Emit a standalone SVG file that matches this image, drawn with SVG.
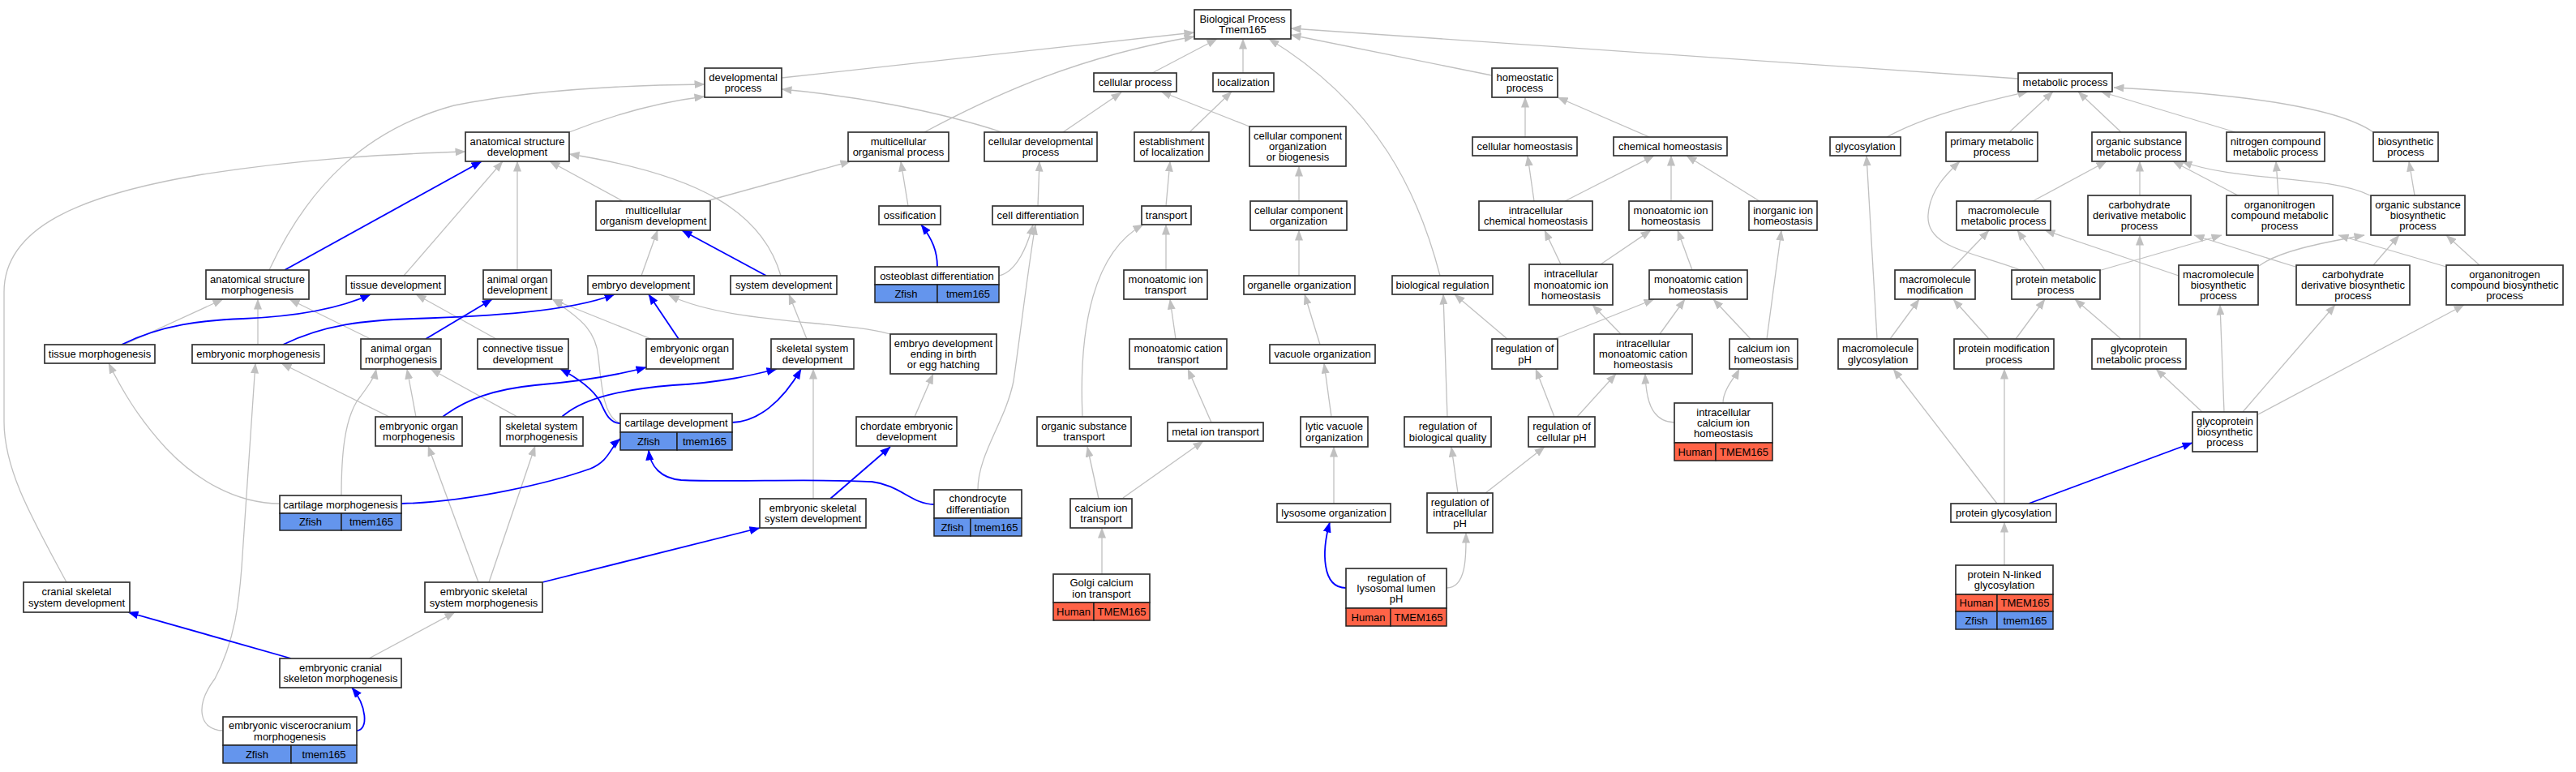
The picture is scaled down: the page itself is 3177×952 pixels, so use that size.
<svg xmlns="http://www.w3.org/2000/svg" width="3177" height="952" viewBox="0 0 3177 952">
<style>
.bg{fill:#fff}
.n rect{fill:#fff;stroke:#333;stroke-width:1.7}
.n rect.z{fill:#6495ED;stroke:#222;stroke-width:1.5}
.n rect.h{fill:#FF6347;stroke:#222;stroke-width:1.5}
text{font-family:"Liberation Sans",Arial,Helvetica,sans-serif;font-size:13px;text-anchor:middle;fill:#000}
.e{fill:none;stroke:#c0c0c0;stroke-width:1.3;marker-end:url(#ag)}
.b{fill:none;stroke:#0000ff;stroke-width:1.8;marker-end:url(#ab)}
</style>
<defs>
<marker id="ag" markerUnits="userSpaceOnUse" markerWidth="13" markerHeight="10" viewBox="0 0 13 10" refX="12.5" refY="5" orient="auto"><path d="M0,0 L13,5 L0,10 z" fill="#c0c0c0"/></marker>
<marker id="ab" markerUnits="userSpaceOnUse" markerWidth="13" markerHeight="10" viewBox="0 0 13 10" refX="12.5" refY="5" orient="auto"><path d="M0,0 L13,5 L0,10 z" fill="#0000ff"/></marker>
</defs>
<rect class="bg" x="0" y="0" width="3177" height="952"/>
<g id="edges">
<path class="e" d="M964,96 L1473,40"/>
<path class="e" d="M1140,163 C1230,115 1330,70 1473,45"/>
<path class="e" d="M1421,90 L1501,48"/>
<path class="e" d="M1533,90 L1533,48"/>
<path class="e" d="M1776,340 C1750,240 1700,130 1565,48"/>
<path class="e" d="M1840,93 L1592,43"/>
<path class="e" d="M2489,97 L1592,35"/>
<path class="e" d="M702,163 C760,140 820,125 869,119"/>
<path class="e" d="M332,333 C380,230 450,160 560,130 C650,112 760,105 869,104"/>
<path class="e" d="M1236,163 C1150,135 1050,118 964,110"/>
<path class="e" d="M1311,163 L1383,114"/>
<path class="e" d="M1467,163 L1519,113"/>
<path class="e" d="M1541,156 L1432,113"/>
<path class="e" d="M1881,169 L1881,120"/>
<path class="e" d="M2034,169 L1921,120"/>
<path class="e" d="M2327,169 C2380,140 2450,125 2501,113"/>
<path class="e" d="M2478,163 L2532,113"/>
<path class="e" d="M2616,163 L2563,113"/>
<path class="e" d="M2757,163 L2591,113"/>
<path class="e" d="M2927,163 C2880,130 2750,115 2607,108"/>
<path class="e" d="M768,248 L678,199"/>
<path class="e" d="M871,248 L1049,199"/>
<path class="e" d="M1120,254 L1111,199"/>
<path class="e" d="M1280,254 L1282,199"/>
<path class="e" d="M1438,254 L1443,199"/>
<path class="e" d="M1602,248 L1602,205"/>
<path class="e" d="M1892,248 L1884,192"/>
<path class="e" d="M1930,248 L2040,192"/>
<path class="e" d="M2061,248 L2061,192"/>
<path class="e" d="M2170,248 L2080,192"/>
<path class="e" d="M2507,248 L2598,199"/>
<path class="e" d="M2639,241 L2639,199"/>
<path class="e" d="M2760,241 L2680,199"/>
<path class="e" d="M2923,241 C2870,215 2760,225 2691,199"/>
<path class="e" d="M2810,241 L2807,199"/>
<path class="e" d="M2978,241 L2971,199"/>
<path class="e" d="M498,340 L620,199"/>
<path class="e" d="M638,333 L638,199"/>
<path class="e" d="M791,340 L811,284"/>
<path class="e" d="M963,340 C940,260 860,215 702,190"/>
<path class="e" d="M153,425 L275,369"/>
<path class="e" d="M318,425 L318,369"/>
<path class="e" d="M457,418 L357,369"/>
<path class="e" d="M612,418 L513,363"/>
<path class="e" d="M803,418 L681,369"/>
<path class="e" d="M765,522 C745,515 742,480 738,440 C735,410 720,395 682,370"/>
<path class="e" d="M1098,412 C1040,395 900,400 825,364"/>
<path class="e" d="M995,418 L973,363"/>
<path class="e" d="M1128,514 L1151,461"/>
<path class="e" d="M1003,615 L1003,455"/>
<path class="e" d="M1206,604 C1206,560 1240,520 1250,470 C1260,400 1268,330 1277,277"/>
<path class="e" d="M1232,340 C1255,335 1268,300 1274,277"/>
<path class="e" d="M1438,333 L1438,277"/>
<path class="e" d="M1335,514 C1330,400 1350,310 1410,277"/>
<path class="e" d="M1602,340 L1602,284"/>
<path class="e" d="M1450,418 L1443,369"/>
<path class="e" d="M1628,425 L1609,363"/>
<path class="e" d="M1925,326 L1905,284"/>
<path class="e" d="M1974,326 L2036,284"/>
<path class="e" d="M2087,333 L2069,284"/>
<path class="e" d="M2179,418 L2197,284"/>
<path class="e" d="M2159,418 L2113,369"/>
<path class="e" d="M2047,412 L2078,369"/>
<path class="e" d="M1999,412 L1964,376"/>
<path class="e" d="M1859,418 L1794,363"/>
<path class="e" d="M1917,418 L2040,369"/>
<path class="e" d="M2315,418 L2302,192"/>
<path class="e" d="M2331,418 L2367,369"/>
<path class="e" d="M2453,418 L2409,369"/>
<path class="e" d="M2486,418 L2522,369"/>
<path class="e" d="M2406,333 L2453,284"/>
<path class="e" d="M2522,333 L2488,284"/>
<path class="e" d="M2492,333 C2430,310 2375,305 2378,265 C2380,235 2400,215 2417,199"/>
<path class="e" d="M2588,334 L2740,290"/>
<path class="e" d="M2616,418 L2559,369"/>
<path class="e" d="M2639,418 L2639,290"/>
<path class="e" d="M2687,340 L2522,284"/>
<path class="e" d="M2786,328 C2810,310 2860,300 2916,290"/>
<path class="e" d="M2831,329 L2706,290"/>
<path class="e" d="M2927,327 L2959,290"/>
<path class="e" d="M3017,329 L2884,290"/>
<path class="e" d="M3058,327 L3017,290"/>
<path class="e" d="M2716,508 L2659,455"/>
<path class="e" d="M2743,508 L2738,376"/>
<path class="e" d="M2766,508 L2880,376"/>
<path class="e" d="M2785,511 L3039,376"/>
<path class="e" d="M2472,621 L2472,455"/>
<path class="e" d="M2463,621 L2335,455"/>
<path class="e" d="M2472,697 L2472,644"/>
<path class="e" d="M2125,497 C2125,480 2140,465 2145,455"/>
<path class="e" d="M2065,521 C2035,520 2030,490 2029,461"/>
<path class="e" d="M1642,514 L1633,448"/>
<path class="e" d="M1785,514 L1780,363"/>
<path class="e" d="M1917,514 L1894,455"/>
<path class="e" d="M1945,514 L1993,461"/>
<path class="e" d="M1798,608 L1790,551"/>
<path class="e" d="M1832,608 L1905,551"/>
<path class="e" d="M1645,621 L1645,551"/>
<path class="e" d="M1784,725 C1810,725 1808,680 1808,657"/>
<path class="e" d="M1494,521 L1465,455"/>
<path class="e" d="M1385,614 L1484,544"/>
<path class="e" d="M1355,615 L1341,551"/>
<path class="e" d="M1359,708 L1359,651"/>
<path class="e" d="M590,718 L528,550"/>
<path class="e" d="M603,718 L660,550"/>
<path class="e" d="M455,812 L561,755"/>
<path class="e" d="M275,901 C245,900 240,870 265,837 C290,790 295,740 298,700 C305,600 311,500 315,448"/>
<path class="e" d="M345,621 C290,621 240,590 205,553 C170,515 150,480 134,448"/>
<path class="e" d="M421,611 C421,560 425,520 440,495 C455,475 462,465 464,455"/>
<path class="e" d="M513,514 L502,455"/>
<path class="e" d="M480,514 L347,448"/>
<path class="e" d="M638,514 L531,455"/>
<path class="e" d="M82,718 C40,640 5,580 5,520 L5,360 C5,280 100,240 250,215 C380,195 480,190 574,187"/>
<path class="b" d="M351,333 L594,199"/>
<path class="b" d="M150,425 C200,400 250,395 300,393 C370,390 420,380 457,363"/>
<path class="b" d="M525,418 L607,369"/>
<path class="b" d="M349,425 C400,400 450,395 510,393 C600,390 700,385 758,363"/>
<path class="b" d="M945,340 L841,284"/>
<path class="b" d="M1156,329 C1156,310 1150,295 1136,277"/>
<path class="b" d="M837,418 L800,363"/>
<path class="b" d="M546,514 C575,492 610,480 660,475 C720,470 760,463 797,453"/>
<path class="b" d="M693,514 C720,490 770,480 830,475 C890,472 930,462 958,455"/>
<path class="b" d="M903,521 C935,520 965,495 988,455"/>
<path class="b" d="M765,522 C750,522 745,505 740,495 C730,478 712,466 691,455"/>
<path class="b" d="M495,621 C580,619 680,595 728,578 C752,568 752,552 765,541"/>
<path class="b" d="M1152,622 C1125,622 1110,598 1075,594 C1000,590 900,595 840,592 C815,590 802,575 800,555"/>
<path class="b" d="M1024,615 L1098,551"/>
<path class="b" d="M669,718 L937,651"/>
<path class="b" d="M359,812 L158,755"/>
<path class="b" d="M440,901 C455,900 452,870 434,848"/>
<path class="b" d="M1660,725 C1630,725 1630,680 1640,644"/>
<path class="b" d="M2502,621 L2704,546"/>
</g>
<g id="n_bp" class="n"><rect x="1473" y="12" width="119" height="36"/><text x="1532.5" y="27.9">Biological Process<tspan x="1532.5" dy="13.3">Tmem165</tspan></text></g>
<g id="n_devproc" class="n"><rect x="869" y="84" width="95" height="36"/><text x="916.5" y="99.9">developmental<tspan x="916.5" dy="13.3">process</tspan></text></g>
<g id="n_cellproc" class="n"><rect x="1349" y="90" width="102" height="23"/><text x="1400" y="106">cellular process</text></g>
<g id="n_local" class="n"><rect x="1496" y="90" width="75" height="23"/><text x="1533.5" y="106">localization</text></g>
<g id="n_homeo" class="n"><rect x="1840" y="84" width="81" height="36"/><text x="1880.5" y="99.9">homeostatic<tspan x="1880.5" dy="13.3">process</tspan></text></g>
<g id="n_metab" class="n"><rect x="2489" y="90" width="116" height="23"/><text x="2547" y="106">metabolic process</text></g>
<g id="n_asd" class="n"><rect x="574" y="163" width="128" height="36"/><text x="638" y="178.9">anatomical structure<tspan x="638" dy="13.3">development</tspan></text></g>
<g id="n_mop" class="n"><rect x="1046" y="163" width="124" height="36"/><text x="1108" y="178.9">multicellular<tspan x="1108" dy="13.3">organismal process</tspan></text></g>
<g id="n_cdp" class="n"><rect x="1214" y="163" width="139" height="36"/><text x="1283.5" y="178.9">cellular developmental<tspan x="1283.5" dy="13.3">process</tspan></text></g>
<g id="n_eol" class="n"><rect x="1399" y="163" width="92" height="36"/><text x="1445" y="178.9">establishment<tspan x="1445" dy="13.3">of localization</tspan></text></g>
<g id="n_ccob" class="n"><rect x="1541" y="156" width="119" height="49"/><text x="1600.5" y="171.7">cellular component<tspan x="1600.5" dy="13.3">organization</tspan><tspan x="1600.5" dy="13.3">or biogenesis</tspan></text></g>
<g id="n_cellhomeo" class="n"><rect x="1816" y="169" width="129" height="23"/><text x="1880.5" y="185">cellular homeostasis</text></g>
<g id="n_chemhomeo" class="n"><rect x="1990" y="169" width="140" height="23"/><text x="2060" y="185">chemical homeostasis</text></g>
<g id="n_glyc" class="n"><rect x="2257" y="169" width="87" height="23"/><text x="2300.5" y="185">glycosylation</text></g>
<g id="n_pmp" class="n"><rect x="2400" y="163" width="113" height="36"/><text x="2456.5" y="178.9">primary metabolic<tspan x="2456.5" dy="13.3">process</tspan></text></g>
<g id="n_osmp" class="n"><rect x="2580" y="163" width="116" height="36"/><text x="2638" y="178.9">organic substance<tspan x="2638" dy="13.3">metabolic process</tspan></text></g>
<g id="n_ncmp" class="n"><rect x="2746" y="163" width="121" height="36"/><text x="2806.5" y="178.9">nitrogen compound<tspan x="2806.5" dy="13.3">metabolic process</tspan></text></g>
<g id="n_biosyn" class="n"><rect x="2927" y="163" width="80" height="36"/><text x="2967" y="178.9">biosynthetic<tspan x="2967" dy="13.3">process</tspan></text></g>
<g id="n_mod" class="n"><rect x="735" y="248" width="141" height="36"/><text x="805.5" y="263.9">multicellular<tspan x="805.5" dy="13.3">organism development</tspan></text></g>
<g id="n_ossif" class="n"><rect x="1084" y="254" width="76" height="23"/><text x="1122" y="270">ossification</text></g>
<g id="n_celldiff" class="n"><rect x="1224" y="254" width="112" height="23"/><text x="1280" y="270">cell differentiation</text></g>
<g id="n_transport" class="n"><rect x="1408" y="254" width="61" height="23"/><text x="1438.5" y="270">transport</text></g>
<g id="n_cco" class="n"><rect x="1542" y="248" width="119" height="36"/><text x="1601.5" y="263.9">cellular component<tspan x="1601.5" dy="13.3">organization</tspan></text></g>
<g id="n_ichemhomeo" class="n"><rect x="1824" y="248" width="140" height="36"/><text x="1894" y="263.9">intracellular<tspan x="1894" dy="13.3">chemical homeostasis</tspan></text></g>
<g id="n_mih" class="n"><rect x="2009" y="248" width="103" height="36"/><text x="2060.5" y="263.9">monoatomic ion<tspan x="2060.5" dy="13.3">homeostasis</tspan></text></g>
<g id="n_iih" class="n"><rect x="2157" y="248" width="84" height="36"/><text x="2199" y="263.9">inorganic ion<tspan x="2199" dy="13.3">homeostasis</tspan></text></g>
<g id="n_mmp" class="n"><rect x="2413" y="248" width="116" height="36"/><text x="2471" y="263.9">macromolecule<tspan x="2471" dy="13.3">metabolic process</tspan></text></g>
<g id="n_cdmp" class="n"><rect x="2575" y="241" width="127" height="49"/><text x="2638.5" y="256.7">carbohydrate<tspan x="2638.5" dy="13.3">derivative metabolic</tspan><tspan x="2638.5" dy="13.3">process</tspan></text></g>
<g id="n_onmp" class="n"><rect x="2746" y="241" width="131" height="49"/><text x="2811.5" y="256.7">organonitrogen<tspan x="2811.5" dy="13.3">compound metabolic</tspan><tspan x="2811.5" dy="13.3">process</tspan></text></g>
<g id="n_osbp" class="n"><rect x="2924" y="241" width="116" height="49"/><text x="2982" y="256.7">organic substance<tspan x="2982" dy="13.3">biosynthetic</tspan><tspan x="2982" dy="13.3">process</tspan></text></g>
<g id="n_asm" class="n"><rect x="254" y="333" width="127" height="36"/><text x="317.5" y="348.9">anatomical structure<tspan x="317.5" dy="13.3">morphogenesis</tspan></text></g>
<g id="n_tissdev" class="n"><rect x="427" y="340" width="122" height="23"/><text x="488" y="356">tissue development</text></g>
<g id="n_aod" class="n"><rect x="596" y="333" width="84" height="36"/><text x="638" y="348.9">animal organ<tspan x="638" dy="13.3">development</tspan></text></g>
<g id="n_embdev" class="n"><rect x="725" y="340" width="131" height="23"/><text x="790.5" y="356">embryo development</text></g>
<g id="n_sysdev" class="n"><rect x="901" y="340" width="131" height="23"/><text x="966.5" y="356">system development</text></g>
<g id="n_osteo" class="n"><rect x="1079" y="329" width="153" height="22"/><text x="1155.5" y="344.5">osteoblast differentiation</text><rect class="z" x="1079" y="351" width="77" height="22"/><rect class="z" x="1156" y="351" width="76" height="22"/><text x="1117.5" y="366.5">Zfish</text><text x="1194" y="366.5">tmem165</text></g>
<g id="n_mit" class="n"><rect x="1386" y="333" width="103" height="36"/><text x="1437.5" y="348.9">monoatomic ion<tspan x="1437.5" dy="13.3">transport</tspan></text></g>
<g id="n_orgorg" class="n"><rect x="1534" y="340" width="137" height="23"/><text x="1602.5" y="356">organelle organization</text></g>
<g id="n_bioreg" class="n"><rect x="1717" y="340" width="124" height="23"/><text x="1779" y="356">biological regulation</text></g>
<g id="n_imih" class="n"><rect x="1886" y="326" width="103" height="50"/><text x="1937.5" y="342.2">intracellular<tspan x="1937.5" dy="13.3">monoatomic ion</tspan><tspan x="1937.5" dy="13.3">homeostasis</tspan></text></g>
<g id="n_mch" class="n"><rect x="2034" y="333" width="121" height="36"/><text x="2094.5" y="348.9">monoatomic cation<tspan x="2094.5" dy="13.3">homeostasis</tspan></text></g>
<g id="n_mmod" class="n"><rect x="2337" y="333" width="99" height="36"/><text x="2386.5" y="348.9">macromolecule<tspan x="2386.5" dy="13.3">modification</tspan></text></g>
<g id="n_protmp" class="n"><rect x="2481" y="333" width="109" height="36"/><text x="2535.5" y="348.9">protein metabolic<tspan x="2535.5" dy="13.3">process</tspan></text></g>
<g id="n_mbp" class="n"><rect x="2687" y="327" width="98" height="49"/><text x="2736" y="342.7">macromolecule<tspan x="2736" dy="13.3">biosynthetic</tspan><tspan x="2736" dy="13.3">process</tspan></text></g>
<g id="n_cdbp" class="n"><rect x="2832" y="327" width="140" height="49"/><text x="2902" y="342.7">carbohydrate<tspan x="2902" dy="13.3">derivative biosynthetic</tspan><tspan x="2902" dy="13.3">process</tspan></text></g>
<g id="n_onbp" class="n"><rect x="3017" y="327" width="144" height="49"/><text x="3089" y="342.7">organonitrogen<tspan x="3089" dy="13.3">compound biosynthetic</tspan><tspan x="3089" dy="13.3">process</tspan></text></g>
<g id="n_tissmorph" class="n"><rect x="55" y="425" width="136" height="23"/><text x="123" y="441">tissue morphogenesis</text></g>
<g id="n_embmorph" class="n"><rect x="237" y="425" width="163" height="23"/><text x="318.5" y="441">embryonic morphogenesis</text></g>
<g id="n_aom" class="n"><rect x="445" y="418" width="99" height="37"/><text x="494.5" y="434.4">animal organ<tspan x="494.5" dy="13.3">morphogenesis</tspan></text></g>
<g id="n_ctd" class="n"><rect x="589" y="418" width="112" height="37"/><text x="645" y="434.4">connective tissue<tspan x="645" dy="13.3">development</tspan></text></g>
<g id="n_eod" class="n"><rect x="797" y="418" width="107" height="37"/><text x="850.5" y="434.4">embryonic organ<tspan x="850.5" dy="13.3">development</tspan></text></g>
<g id="n_ssd" class="n"><rect x="951" y="418" width="102" height="37"/><text x="1002" y="434.4">skeletal system<tspan x="1002" dy="13.3">development</tspan></text></g>
<g id="n_edeb" class="n"><rect x="1098" y="412" width="131" height="49"/><text x="1163.5" y="427.7">embryo development<tspan x="1163.5" dy="13.3">ending in birth</tspan><tspan x="1163.5" dy="13.3">or egg hatching</tspan></text></g>
<g id="n_mct" class="n"><rect x="1393" y="418" width="120" height="37"/><text x="1453" y="434.4">monoatomic cation<tspan x="1453" dy="13.3">transport</tspan></text></g>
<g id="n_vacorg" class="n"><rect x="1566" y="425" width="130" height="23"/><text x="1631" y="441">vacuole organization</text></g>
<g id="n_regph" class="n"><rect x="1840" y="418" width="81" height="37"/><text x="1880.5" y="434.4">regulation of<tspan x="1880.5" dy="13.3">pH</tspan></text></g>
<g id="n_imch" class="n"><rect x="1966" y="412" width="121" height="49"/><text x="2026.5" y="427.7">intracellular<tspan x="2026.5" dy="13.3">monoatomic cation</tspan><tspan x="2026.5" dy="13.3">homeostasis</tspan></text></g>
<g id="n_cih" class="n"><rect x="2133" y="418" width="84" height="37"/><text x="2175" y="434.4">calcium ion<tspan x="2175" dy="13.3">homeostasis</tspan></text></g>
<g id="n_mglyc" class="n"><rect x="2267" y="418" width="98" height="37"/><text x="2316" y="434.4">macromolecule<tspan x="2316" dy="13.3">glycosylation</tspan></text></g>
<g id="n_pmodp" class="n"><rect x="2410" y="418" width="123" height="37"/><text x="2471.5" y="434.4">protein modification<tspan x="2471.5" dy="13.3">process</tspan></text></g>
<g id="n_gpmp" class="n"><rect x="2580" y="418" width="116" height="37"/><text x="2638" y="434.4">glycoprotein<tspan x="2638" dy="13.3">metabolic process</tspan></text></g>
<g id="n_eom" class="n"><rect x="463" y="514" width="107" height="36"/><text x="516.5" y="529.9">embryonic organ<tspan x="516.5" dy="13.3">morphogenesis</tspan></text></g>
<g id="n_ssm" class="n"><rect x="617" y="514" width="102" height="36"/><text x="668" y="529.9">skeletal system<tspan x="668" dy="13.3">morphogenesis</tspan></text></g>
<g id="n_cartdev" class="n"><rect x="765" y="510" width="138" height="23"/><text x="834" y="526">cartilage development</text><rect class="z" x="765" y="533" width="70" height="22"/><rect class="z" x="835" y="533" width="68" height="22"/><text x="800" y="548.5">Zfish</text><text x="869" y="548.5">tmem165</text></g>
<g id="n_ced" class="n"><rect x="1056" y="514" width="124" height="36"/><text x="1118" y="529.9">chordate embryonic<tspan x="1118" dy="13.3">development</tspan></text></g>
<g id="n_ost" class="n"><rect x="1279" y="514" width="116" height="36"/><text x="1337" y="529.9">organic substance<tspan x="1337" dy="13.3">transport</tspan></text></g>
<g id="n_mitr" class="n"><rect x="1440" y="521" width="118" height="23"/><text x="1499" y="537">metal ion transport</text></g>
<g id="n_lvo" class="n"><rect x="1604" y="514" width="83" height="37"/><text x="1645.5" y="530.4">lytic vacuole<tspan x="1645.5" dy="13.3">organization</tspan></text></g>
<g id="n_rbq" class="n"><rect x="1732" y="514" width="107" height="37"/><text x="1785.5" y="530.4">regulation of<tspan x="1785.5" dy="13.3">biological quality</tspan></text></g>
<g id="n_rcph" class="n"><rect x="1885" y="514" width="82" height="37"/><text x="1926" y="530.4">regulation of<tspan x="1926" dy="13.3">cellular pH</tspan></text></g>
<g id="n_icih" class="n"><rect x="2065" y="497" width="121" height="49"/><text x="2125.5" y="512.7">intracellular<tspan x="2125.5" dy="13.3">calcium ion</tspan><tspan x="2125.5" dy="13.3">homeostasis</tspan></text><rect class="h" x="2065" y="546" width="51" height="22"/><rect class="h" x="2116" y="546" width="70" height="22"/><text x="2090.5" y="561.5">Human</text><text x="2151" y="561.5">TMEM165</text></g>
<g id="n_gbp" class="n"><rect x="2704" y="508" width="80" height="49"/><text x="2744" y="523.7">glycoprotein<tspan x="2744" dy="13.3">biosynthetic</tspan><tspan x="2744" dy="13.3">process</tspan></text></g>
<g id="n_cartmorph" class="n"><rect x="345" y="611" width="150" height="22"/><text x="420" y="626.5">cartilage morphogenesis</text><rect class="z" x="345" y="633" width="76" height="21"/><rect class="z" x="421" y="633" width="74" height="21"/><text x="383" y="648">Zfish</text><text x="458" y="648">tmem165</text></g>
<g id="n_essd" class="n"><rect x="937" y="615" width="131" height="36"/><text x="1002.5" y="630.9">embryonic skeletal<tspan x="1002.5" dy="13.3">system development</tspan></text></g>
<g id="n_chondro" class="n"><rect x="1152" y="604" width="108" height="35"/><text x="1206" y="619.4">chondrocyte<tspan x="1206" dy="13.3">differentiation</tspan></text><rect class="z" x="1152" y="639" width="45" height="22"/><rect class="z" x="1197" y="639" width="63" height="22"/><text x="1174.5" y="654.5">Zfish</text><text x="1228.5" y="654.5">tmem165</text></g>
<g id="n_cit" class="n"><rect x="1320" y="615" width="76" height="36"/><text x="1358" y="630.9">calcium ion<tspan x="1358" dy="13.3">transport</tspan></text></g>
<g id="n_lysorg" class="n"><rect x="1575" y="621" width="140" height="23"/><text x="1645" y="637">lysosome organization</text></g>
<g id="n_riph" class="n"><rect x="1760" y="608" width="81" height="49"/><text x="1800.5" y="623.7">regulation of<tspan x="1800.5" dy="13.3">intracellular</tspan><tspan x="1800.5" dy="13.3">pH</tspan></text></g>
<g id="n_pglyc" class="n"><rect x="2406" y="621" width="130" height="23"/><text x="2471" y="637">protein glycosylation</text></g>
<g id="n_golgi" class="n"><rect x="1299" y="708" width="119" height="35"/><text x="1358.5" y="723.4">Golgi calcium<tspan x="1358.5" dy="13.3">ion transport</tspan></text><rect class="h" x="1299" y="743" width="50" height="22"/><rect class="h" x="1349" y="743" width="69" height="22"/><text x="1324" y="758.5">Human</text><text x="1383.5" y="758.5">TMEM165</text></g>
<g id="n_rllph" class="n"><rect x="1660" y="701" width="124" height="49"/><text x="1722" y="716.7">regulation of<tspan x="1722" dy="13.3">lysosomal lumen</tspan><tspan x="1722" dy="13.3">pH</tspan></text><rect class="h" x="1660" y="750" width="55" height="22"/><rect class="h" x="1715" y="750" width="69" height="22"/><text x="1687.5" y="765.5">Human</text><text x="1749.5" y="765.5">TMEM165</text></g>
<g id="n_pnlg" class="n"><rect x="2412" y="697" width="120" height="36"/><text x="2472" y="712.9">protein N-linked<tspan x="2472" dy="13.3">glycosylation</tspan></text><rect class="h" x="2412" y="733" width="51" height="21"/><rect class="h" x="2463" y="733" width="69" height="21"/><text x="2437.5" y="748">Human</text><text x="2497.5" y="748">TMEM165</text><rect class="z" x="2412" y="754" width="51" height="22"/><rect class="z" x="2463" y="754" width="69" height="22"/><text x="2437.5" y="769.5">Zfish</text><text x="2497.5" y="769.5">tmem165</text></g>
<g id="n_cssd" class="n"><rect x="29" y="718" width="131" height="37"/><text x="94.5" y="734.4">cranial skeletal<tspan x="94.5" dy="13.3">system development</tspan></text></g>
<g id="n_essm" class="n"><rect x="524" y="718" width="145" height="37"/><text x="596.5" y="734.4">embryonic skeletal<tspan x="596.5" dy="13.3">system morphogenesis</tspan></text></g>
<g id="n_ecsm" class="n"><rect x="345" y="812" width="150" height="36"/><text x="420" y="827.9">embryonic cranial<tspan x="420" dy="13.3">skeleton morphogenesis</tspan></text></g>
<g id="n_evm" class="n"><rect x="275" y="884" width="165" height="35"/><text x="357.5" y="899.4">embryonic viscerocranium<tspan x="357.5" dy="13.3">morphogenesis</tspan></text><rect class="z" x="275" y="919" width="84" height="22"/><rect class="z" x="359" y="919" width="81" height="22"/><text x="317" y="934.5">Zfish</text><text x="399.5" y="934.5">tmem165</text></g>
</svg>
